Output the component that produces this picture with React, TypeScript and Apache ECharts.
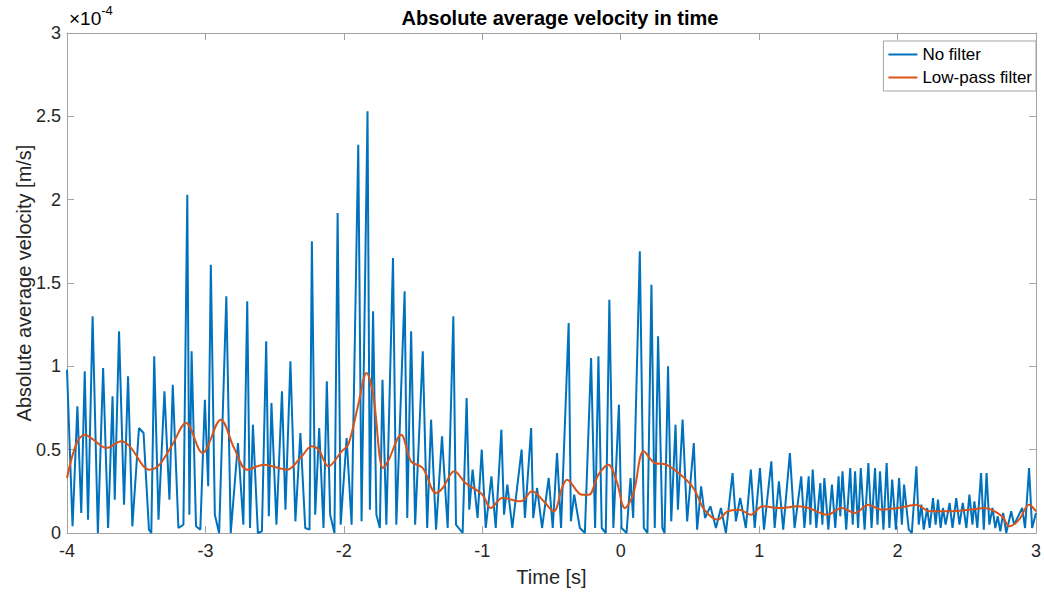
import React, { useEffect, useRef } from "react";
import * as echarts from "echarts";

// Time axis [s] and velocity values (in units of 1e-4 m/s)
const rawTime = [
  -4.0, -3.96, -3.925, -3.897, -3.872, -3.848, -3.815, -3.777, -3.739, -3.703,
  -3.671, -3.655, -3.624, -3.588, -3.559, -3.528, -3.48, -3.447, -3.408, -3.391,
  -3.37, -3.339, -3.296, -3.26, -3.236, -3.195, -3.159, -3.131, -3.116, -3.1,
  -3.068, -3.037, -3.004, -2.98, -2.961, -2.932, -2.901, -2.849, -2.817, -2.765,
  -2.726, -2.698, -2.678, -2.657, -2.621, -2.592, -2.561, -2.542, -2.523, -2.487,
  -2.447, -2.422, -2.386, -2.35, -2.314, -2.279, -2.248, -2.231, -2.207, -2.178,
  -2.147, -2.123, -2.099, -2.068, -2.045, -2.023, -1.98, -1.944, -1.896, -1.872,
  -1.829, -1.812, -1.789, -1.765, -1.74, -1.721, -1.693, -1.645, -1.621, -1.561,
  -1.542, -1.514, -1.485, -1.43, -1.398, -1.37, -1.334, -1.291, -1.25, -1.209,
  -1.19, -1.142, -1.113, -1.094, -1.07, -1.034, -1.004, -0.975, -0.934, -0.903,
  -0.862, -0.843, -0.819, -0.783, -0.716, -0.692, -0.647, -0.632, -0.604, -0.568,
  -0.52, -0.491, -0.46, -0.431, -0.376, -0.36, -0.336, -0.295, -0.259, -0.214,
  -0.185, -0.161, -0.137, -0.108, -0.082, -0.053, -0.013, 0.006, 0.042, 0.071,
  0.09, 0.138, 0.167, 0.193, 0.222, 0.246, 0.27, 0.301, 0.317, 0.342,
  0.365, 0.396, 0.413, 0.447, 0.48, 0.528, 0.552, 0.581, 0.609, 0.648,
  0.688, 0.724, 0.76, 0.808, 0.832, 0.863, 0.904, 0.94, 0.968, 1.006,
  1.035, 1.088, 1.112, 1.143, 1.174, 1.222, 1.256, 1.304, 1.327, 1.358,
  1.37, 1.387, 1.413, 1.442, 1.457, 1.471, 1.5, 1.526, 1.55, 1.574,
  1.586, 1.602, 1.629, 1.658, 1.676, 1.693, 1.715, 1.734, 1.762, 1.789,
  1.812, 1.837, 1.855, 1.873, 1.898, 1.921, 1.941, 1.961, 1.988, 2.011,
  2.031, 2.047, 2.081, 2.103, 2.136, 2.153, 2.172, 2.189, 2.214, 2.232,
  2.256, 2.275, 2.292, 2.311, 2.328, 2.347, 2.376, 2.397, 2.424, 2.447,
  2.471, 2.497, 2.519, 2.541, 2.555, 2.576, 2.603, 2.623, 2.643, 2.663,
  2.686, 2.706, 2.724, 2.742, 2.763, 2.785, 2.821, 2.842, 2.871, 2.9,
  2.921, 2.95, 2.972, 3.0,
];
const rawVelocity = [
  0.98, 0.04, 0.76, 0.12, 0.97, 0.08, 1.3, 0.0, 0.99, 0.03,
  0.82, 0.2, 1.21, 0.17, 0.94, 0.04, 0.63, 0.6, 0.02, 0.0,
  1.06, 0.08, 0.85, 0.2, 0.89, 0.03, 0.05, 2.03, 0.11, 1.09,
  0.04, 0.02, 0.8, 0.28, 1.61, 0.11, 0.0, 1.42, 0.0, 0.54,
  0.05, 1.39, 0.03, 0.65, 0.0, 0.01, 1.15, 0.1, 0.78, 0.05,
  0.85, 0.14, 1.03, 0.07, 0.6, 0.03, 0.02, 1.75, 0.11, 0.63,
  0.03, 0.91, 0.11, 0.0, 1.92, 0.05, 0.57, 0.05, 2.33, 0.07,
  2.53, 0.14, 1.33, 0.11, 0.03, 0.92, 0.05, 1.65, 0.05, 1.45,
  0.09, 1.21, 0.05, 1.09, 0.03, 0.68, 0.02, 0.58, 0.03, 1.3,
  0.05, 0.0, 0.81, 0.14, 0.38, 0.09, 0.5, 0.03, 0.34, 0.03,
  0.62, 0.11, 0.29, 0.03, 0.5, 0.09, 0.63, 0.09, 0.27, 0.03,
  0.33, 0.03, 0.48, 0.03, 1.26, 0.07, 0.23, 0.03, 0.0, 1.05,
  0.03, 1.06, 0.03, 0.0, 1.4, 0.03, 0.77, 0.03, 0.0, 0.33,
  0.09, 1.69, 0.03, 0.0, 1.49, 0.03, 1.18, 0.03, 0.0, 1.0,
  0.07, 0.65, 0.14, 0.68, 0.07, 0.54, 0.02, 0.28, 0.09, 0.16,
  0.03, 0.15, 0.0, 0.36, 0.07, 0.21, 0.03, 0.38, 0.03, 0.39,
  0.02, 0.43, 0.03, 0.31, 0.02, 0.48, 0.03, 0.34, 0.03, 0.34,
  0.05, 0.38, 0.03, 0.3, 0.05, 0.33, 0.02, 0.29, 0.03, 0.34,
  0.1, 0.37, 0.02, 0.39, 0.05, 0.37, 0.03, 0.39, 0.02, 0.42,
  0.03, 0.39, 0.05, 0.37, 0.02, 0.42, 0.03, 0.32, 0.02, 0.33,
  0.05, 0.29, 0.02, 0.0, 0.4, 0.05, 0.17, 0.02, 0.15, 0.03,
  0.21, 0.05, 0.2, 0.03, 0.15, 0.05, 0.18, 0.03, 0.21, 0.05,
  0.18, 0.03, 0.23, 0.05, 0.19, 0.03, 0.36, 0.02, 0.36, 0.05,
  0.15, 0.03, 0.1, 0.01, 0.12, 0.0, 0.13, 0.05, 0.1, 0.15,
  0.03, 0.39, 0.03, 0.12,
];

const lpTime = [
  -4.0, -3.93, -3.87, -3.81, -3.714, -3.607, -3.547, -3.404, -3.332, -3.239,
  -3.14, -3.021, -2.889, -2.793, -2.698, -2.578, -2.411, -2.314, -2.231, -2.183,
  -2.111, -2.016, -1.968, -1.896, -1.836, -1.788, -1.717, -1.681, -1.586, -1.514,
  -1.43, -1.334, -1.286, -1.202, -1.121, -0.999, -0.939, -0.855, -0.724, -0.64,
  -0.556, -0.484, -0.424, -0.388, -0.281, -0.23, -0.161, -0.089, -0.029, 0.03,
  0.09, 0.167, 0.246, 0.33, 0.473, 0.533, 0.604, 0.701, 0.772, 0.856,
  0.94, 1.024, 1.155, 1.275, 1.356, 1.49, 1.598, 1.693, 1.789, 1.885,
  2.004, 2.136, 2.232, 2.376, 2.519, 2.627, 2.756, 2.806, 2.878, 2.95,
  3.0,
];
const lpVelocity = [
  0.33, 0.54, 0.59, 0.56, 0.51, 0.55, 0.52, 0.38, 0.41, 0.53,
  0.66, 0.48, 0.68, 0.51, 0.38, 0.41, 0.38, 0.45, 0.52, 0.5,
  0.4, 0.49, 0.53, 0.77, 0.96, 0.83, 0.39, 0.43, 0.59, 0.43,
  0.39, 0.24, 0.27, 0.37, 0.3, 0.23, 0.15, 0.21, 0.19, 0.25,
  0.19, 0.13, 0.27, 0.32, 0.23, 0.23, 0.35, 0.41, 0.31, 0.15,
  0.23, 0.49, 0.42, 0.41, 0.32, 0.26, 0.14, 0.08, 0.13, 0.14,
  0.11, 0.16, 0.15, 0.16, 0.15, 0.11, 0.15, 0.12, 0.17, 0.14,
  0.15, 0.17, 0.13, 0.13, 0.14, 0.15, 0.1, 0.04, 0.08, 0.17,
  0.13,
];

const seriesNames = ["No filter", "Low-pass filter"];
const xTicks = { min: -4, max: 3, interval: 1 };
const yTicks = { min: 0, max: 3, interval: 0.5 };

const FONT = "Liberation Sans, Arial, Helvetica, sans-serif";
const BOX = "#a3a3a3";
const TXT = "#262626";

export default function App() {
  const ref = useRef<HTMLDivElement>(null);

  useEffect(() => {
    if (!ref.current) return;
    const chart = echarts.init(ref.current, null, { renderer: "svg" });
    const rawData = rawTime.map((t, i) => [t, rawVelocity[i]]);
    const lpData = lpTime.map((t, i) => [t, lpVelocity[i]]);

    const tickStyle = { inside: true, length: 7, lineStyle: { color: BOX, width: 1 } };

    chart.setOption({
      animation: false,
      backgroundColor: "#ffffff",
      textStyle: { fontFamily: FONT },
      title: {
        text: "Absolute average velocity in time",
        left: 555,
        top: 3,
        textAlign: "center",
        textStyle: { fontFamily: FONT, fontSize: 20, fontWeight: "bold", color: "#000" },
      },
      legend: {
        data: seriesNames,
        orient: "vertical",
        right: 8,
        top: 41,
        padding: [4, 4, 4, 5],
        itemGap: 4,
        itemWidth: 29,
        itemHeight: 2,
        icon: "rect",
        backgroundColor: "#ffffff",
        borderColor: BOX,
        borderWidth: 1,
        borderRadius: 0,
        textStyle: { fontFamily: FONT, fontSize: 17, color: "#000", lineHeight: 19 },
      },
      grid: { left: 67, right: 2, top: 33, bottom: 57, containLabel: false },
      xAxis: [
        {
          type: "value",
          min: xTicks.min,
          max: xTicks.max,
          interval: xTicks.interval,
          name: "Time [s]",
          nameLocation: "middle",
          nameGap: 34,
          nameMoveOverlap: false,
          nameTextStyle: { fontFamily: FONT, fontSize: 20, color: TXT },
          axisLine: { show: true, onZero: false, lineStyle: { color: BOX, width: 1 } },
          axisTick: tickStyle,
          splitLine: { show: false },
          axisLabel: { fontFamily: FONT, fontSize: 18, color: TXT, margin: 9 },
        },
        {
          type: "value",
          position: "top",
          min: xTicks.min,
          max: xTicks.max,
          interval: xTicks.interval,
          axisLine: { show: true, onZero: false, lineStyle: { color: BOX, width: 1 } },
          axisTick: tickStyle,
          axisLabel: { show: false },
          splitLine: { show: false },
        },
      ],
      yAxis: [
        {
          type: "value",
          min: yTicks.min,
          max: yTicks.max,
          interval: yTicks.interval,
          name: "Absolute average velocity [m/s]",
          nameLocation: "middle",
          nameGap: 33,
          nameMoveOverlap: false,
          nameTextStyle: { fontFamily: FONT, fontSize: 20, color: TXT },
          axisLine: { show: true, onZero: false, lineStyle: { color: BOX, width: 1 } },
          axisTick: tickStyle,
          splitLine: { show: false },
          axisLabel: { fontFamily: FONT, fontSize: 18, color: TXT, margin: 6 },
        },
        {
          type: "value",
          position: "right",
          min: yTicks.min,
          max: yTicks.max,
          interval: yTicks.interval,
          axisLine: { show: true, onZero: false, lineStyle: { color: BOX, width: 1 } },
          axisTick: tickStyle,
          axisLabel: { show: false },
          splitLine: { show: false },
        },
      ],
      graphic: [
        {
          type: "text",
          left: 69,
          top: 4,
          style: {
            text: "{a|×10}{b|-4}",
            rich: {
              a: { fontFamily: FONT, fontSize: 19, color: TXT, verticalAlign: "bottom", lineHeight: 24 },
              b: { fontFamily: FONT, fontSize: 13, color: TXT, verticalAlign: "top", lineHeight: 24, padding: [0, 0, 10, 0] },
            },
          },
        },
      ],
      series: [
        {
          name: seriesNames[0],
          type: "line",
          data: rawData,
          symbol: "none",
          lineStyle: { color: "#0072BD", width: 2 },
          itemStyle: { color: "#0072BD" },
          z: 2,
        },
        {
          name: seriesNames[1],
          type: "line",
          data: lpData,
          symbol: "none",
          smooth: 0.35,
          lineStyle: { color: "#D95319", width: 2 },
          itemStyle: { color: "#D95319" },
          z: 3,
        },
      ],
    });

    return () => chart.dispose();
  }, []);

  return (
    <div
      ref={ref}
      style={{ position: "absolute", left: 0, top: 0, width: 1044, height: 592 }}
    />
  );
}
